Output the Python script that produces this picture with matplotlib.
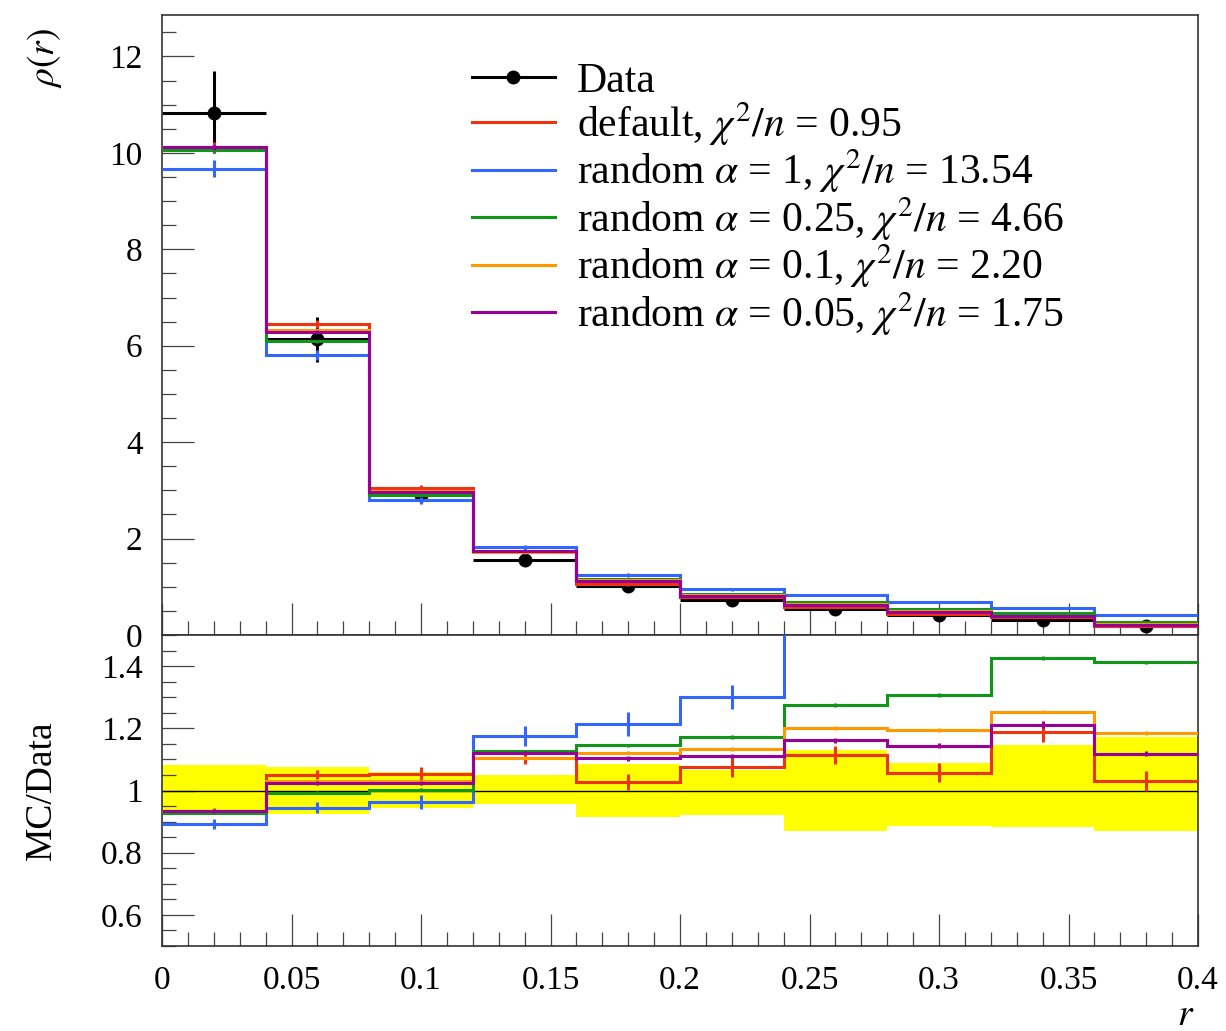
import numpy as np
import matplotlib
matplotlib.use('Agg')
import matplotlib.pyplot as plt
from matplotlib.lines import Line2D
from matplotlib.ticker import MultipleLocator, FormatStrFormatter

plt.rcParams['font.family'] = ['Liberation Serif', 'DejaVu Serif']
plt.rcParams['mathtext.fontset'] = 'stix'

# binning in r
bin_edges = [0.0, 0.04, 0.08, 0.12, 0.16, 0.20, 0.24, 0.28, 0.32, 0.36, 0.40]

# measured rho(r) and its relative uncertainty (up / down)
data_vals = [10.83, 6.14, 2.90, 1.55, 1.02, 0.73, 0.53, 0.41, 0.32, 0.19]
data_rel_up = [0.081, 0.074, 0.060, 0.050, 0.085, 0.065, 0.129, 0.089, 0.145, 0.172]
data_rel_dn = [0.077, 0.077, 0.055, 0.043, 0.086, 0.080, 0.129, 0.115, 0.118, 0.130]

# MC / Data ratios
ratio_default = [0.935, 1.051, 1.054, 1.105, 1.027, 1.077, 1.114, 1.057, 1.187, 1.031]
ratio_a1 = [0.893, 0.945, 0.963, 1.176, 1.214, 1.300, 1.58, 1.66, 1.78, 2.16]
ratio_a025 = [0.928, 0.993, 1.002, 1.126, 1.145, 1.171, 1.276, 1.307, 1.425, 1.412]
ratio_a01 = [0.935, 1.030, 1.030, 1.105, 1.122, 1.134, 1.202, 1.195, 1.254, 1.186]
ratio_a005 = [0.935, 1.025, 1.025, 1.120, 1.103, 1.110, 1.161, 1.144, 1.212, 1.118]

# relative MC stat. uncertainties
err_default = [0.010, 0.014, 0.020, 0.020, 0.026, 0.033, 0.030, 0.031, 0.032, 0.031]
err_a1 = [0.016, 0.017, 0.024, 0.033, 0.038, 0.039, 0.04, 0.04, 0.04, 0.04]
err_a025 = [0.005, 0.005, 0.005, 0.005, 0.005, 0.006, 0.006, 0.006, 0.006, 0.006]
err_a01 = [0.005, 0.005, 0.005, 0.005, 0.005, 0.006, 0.006, 0.006, 0.006, 0.006]
err_a005 = [0.006, 0.006, 0.006, 0.006, 0.007, 0.007, 0.008, 0.008, 0.010, 0.008]

mc_labels = [r'default, $\chi^2/n$ = 0.95',
             r'random $\alpha$ = 1, $\chi^2/n$ = 13.54',
             r'random $\alpha$ = 0.25, $\chi^2/n$ = 4.66',
             r'random $\alpha$ = 0.1, $\chi^2/n$ = 2.20',
             r'random $\alpha$ = 0.05, $\chi^2/n$ = 1.75']
mc_colors = ['#ee3311', '#3366ff', '#109618', '#ff9900', '#990099']
mc_ratios = [ratio_default, ratio_a1, ratio_a025, ratio_a01, ratio_a005]
mc_errs = [err_default, err_a1, err_a025, err_a01, err_a005]

edges = np.array(bin_edges)
centers = 0.5 * (edges[1:] + edges[:-1])
halfw = 0.5 * (edges[1:] - edges[:-1])
data = np.array(data_vals)
rel_up = np.array(data_rel_up)
rel_dn = np.array(data_rel_dn)

fig = plt.figure(figsize=(12.26, 10.31), dpi=100)
L, R = 162 / 1226, 1198 / 1226
ax = fig.add_axes([L, 1 - 635 / 1031, R - L, 620 / 1031])
axr = fig.add_axes([L, 1 - 946 / 1031, R - L, 311 / 1031])

lw = 2.2
# data
ax.errorbar(centers, data, xerr=halfw, yerr=[data * rel_dn, data * rel_up],
            fmt='o', color='black', ms=9, elinewidth=lw, capsize=0, zorder=2)
handles = [Line2D([], [], color='black', lw=lw, marker='o', ms=9)]

for col, rat, err in zip(mc_colors, mc_ratios, mc_errs):
    rat = np.array(rat)
    err = np.array(err)
    mc = rat * data
    ax.stairs(mc, edges, baseline=None, color=col, lw=lw, zorder=3)
    ax.errorbar(centers, mc, yerr=err * data, fmt='none', ecolor=col,
                elinewidth=lw, capsize=0, zorder=3)
    handles.append(Line2D([], [], color=col, lw=lw))

# ratio panel
axr.stairs(1 + rel_up, edges, baseline=1 - rel_dn, fill=True,
           color='#ffff00', lw=0, zorder=1)
axr.axhline(1.0, color='black', lw=1.0, zorder=2)
for col, rat, err in zip(mc_colors, mc_ratios, mc_errs):
    axr.stairs(rat, edges, baseline=None, color=col, lw=lw, zorder=3)
    axr.errorbar(centers, rat, yerr=err, fmt='none', ecolor=col,
                 elinewidth=lw, capsize=0, zorder=3)

# axes styling
ax.set_xlim(0, 0.4)
ax.set_ylim(0, 12.86)
axr.set_xlim(0, 0.4)
axr.set_ylim(0.5, 1.5)

for a in (ax, axr):
    a.xaxis.set_major_locator(MultipleLocator(0.05))
    a.xaxis.set_minor_locator(MultipleLocator(0.01))
    a.tick_params(which='both', direction='in', top=False, right=False,
                  labelsize=24, pad=14, color='#444444')
    a.tick_params(which='major', length=23, width=0.9)
    a.tick_params(which='minor', length=10, width=0.9)
    for s in a.spines.values():
        s.set_color('#333333')
        s.set_linewidth(1.2)

ax.yaxis.set_major_locator(MultipleLocator(2))
ax.yaxis.set_minor_locator(MultipleLocator(0.5))
ax.tick_params(axis='x', labelbottom=False)
axr.yaxis.set_major_locator(MultipleLocator(0.2))
axr.yaxis.set_minor_locator(MultipleLocator(0.05))
axr.yaxis.set_major_formatter(FormatStrFormatter('%g'))
axr.xaxis.set_major_formatter(FormatStrFormatter('%g'))

ax.set_ylabel(r'$\rho(r)$', fontsize=27)
ax.yaxis.set_label_coords(-0.113, 0.979)
ax.yaxis.label.set_va('center')
ax.yaxis.label.set_ha('right')
axr.set_ylabel('MC/Data', fontsize=27)
axr.yaxis.set_label_coords(-0.116, 0.5)
axr.yaxis.label.set_va('center')
axr.set_xlabel(r'$r$', fontsize=27)
axr.xaxis.set_label_coords(0.997, -0.17)
axr.xaxis.label.set_ha('right')

ax.legend(handles, ['Data'] + mc_labels, loc='upper left',
          bbox_to_anchor=(0.299, 0.924), frameon=False,
          fontsize=30, handlelength=1.99, handletextpad=0.53,
          labelspacing=-0.01, borderpad=0, borderaxespad=0)

fig.savefig('out.png', dpi=100)
